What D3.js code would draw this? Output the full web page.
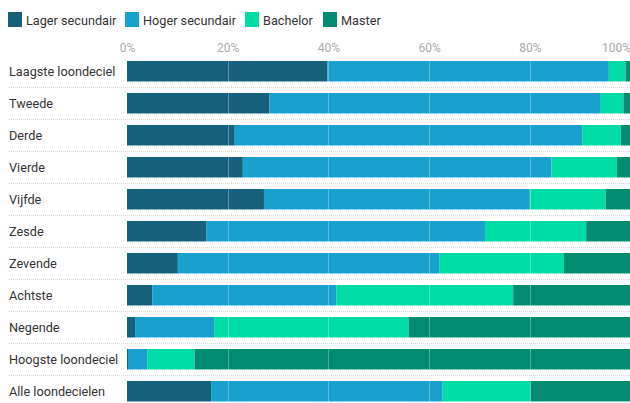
<!DOCTYPE html>
<html><head><meta charset="utf-8">
<script src="https://cdn.jsdelivr.net/npm/d3@7"></script>
<style>
html,body{margin:0;padding:0;background:#fff;}
svg{display:block;font-family:Roboto,"Noto Sans",sans-serif;}
</style></head>
<body><svg id="c" width="630" height="403"></svg>
<script>
const categories = ["Laagste loondeciel","Tweede","Derde","Vierde","Vijfde","Zesde","Zevende","Achtste","Negende","Hoogste loondeciel","Alle loondecielen"];
const seriesNames = ["Lager secundair","Hoger secundair","Bachelor","Master"];
const lagerSecundair = [39.8,28.3,21.4,23.0,27.2,15.8,10.1,5.0,1.6,0.2,16.7];
const hogerSecundair = [55.9,65.8,69.0,61.3,52.8,55.3,51.9,36.6,15.7,3.9,46.0];
const bachelor       = [3.3,4.5,7.7,13.0,15.1,20.1,24.8,35.1,38.6,9.3,17.4];
const master         = [1.0,1.4,1.9,2.7,4.9,8.8,13.2,23.3,44.1,86.6,19.9];
const tickValues = [0,20,40,60,80,100];
const colors = ["#15607a","#18a1cd","#00dca6","#008b72"];

const svg = d3.select("#c");
const seriesVals = [lagerSecundair,hogerSecundair,bachelor,master];
const rows = categories.map((c,i)=>{const o={cat:c}; seriesNames.forEach((s,j)=>o[s]=seriesVals[j][i]); return o;});
const stack = d3.stack().keys(seriesNames)(rows);

const x = d3.scaleLinear().domain([0,100]).range([127,630.5]);
const y = d3.scaleBand().domain(categories).range([55.24,55.24+32*11]).paddingInner(0.36).paddingOuter(0.18);

const FS = 12.7;
// legend
const leg = svg.append("g");
const legX = [8,125,245,323];
seriesNames.forEach((s,i)=>{
  leg.append("rect").attr("x",legX[i]).attr("y",12).attr("width",14).attr("height",15).attr("fill",colors[i]);
  leg.append("text").attr("x",legX[i]+18).attr("y",24.5).attr("font-size",FS).attr("fill","#333").text(s);
});

// axis labels
const ax = svg.append("g").attr("transform","translate(0,52)");
const axis = d3.axisTop(x).tickValues(tickValues).tickFormat(d=>d+"%").tickSize(0).tickPadding(0);
ax.call(axis);
ax.select(".domain").remove();
ax.selectAll("text").attr("font-size",12).attr("fill","#aaa").attr("font-family","Roboto,sans-serif")
  .attr("text-anchor",(d)=>d===100?"end":"middle").attr("dy",0);

// separators
categories.slice(0,-1).forEach(c=>{
  const yy = Math.round(y(c)+y.bandwidth()+5.5)+0.5;
  svg.append("line").attr("x1",9).attr("x2",630).attr("y1",yy).attr("y2",yy)
    .attr("stroke","#d5d5d5").attr("stroke-width",1).attr("stroke-dasharray","1,1");
});

// row labels
svg.append("g").selectAll("text").data(categories).join("text")
  .attr("x",9).attr("y",d=>y(d)+y.bandwidth()/2).attr("dy","0.35em")
  .attr("font-size",FS).attr("fill","#333").text(d=>d);

// bars
svg.append("g").selectAll("g").data(stack).join("g").attr("fill",(d,i)=>colors[i])
  .selectAll("rect").data(d=>d).join("rect")
  .attr("x",d=>x(d[0])).attr("width",d=>Math.max(0,x(d[1])-x(d[0])))
  .attr("y",d=>y(d.data.cat)).attr("height",y.bandwidth());

// grid lines on top of bars
svg.append("g").selectAll("line").data(tickValues.filter(v=>v>0&&v<100)).join("line")
  .attr("x1",d=>Math.round(x(d))+0.5).attr("x2",d=>Math.round(x(d))+0.5)
  .attr("y1",58).attr("y2",403).attr("stroke","#fff").attr("stroke-opacity",0.3);
</script></body></html>
